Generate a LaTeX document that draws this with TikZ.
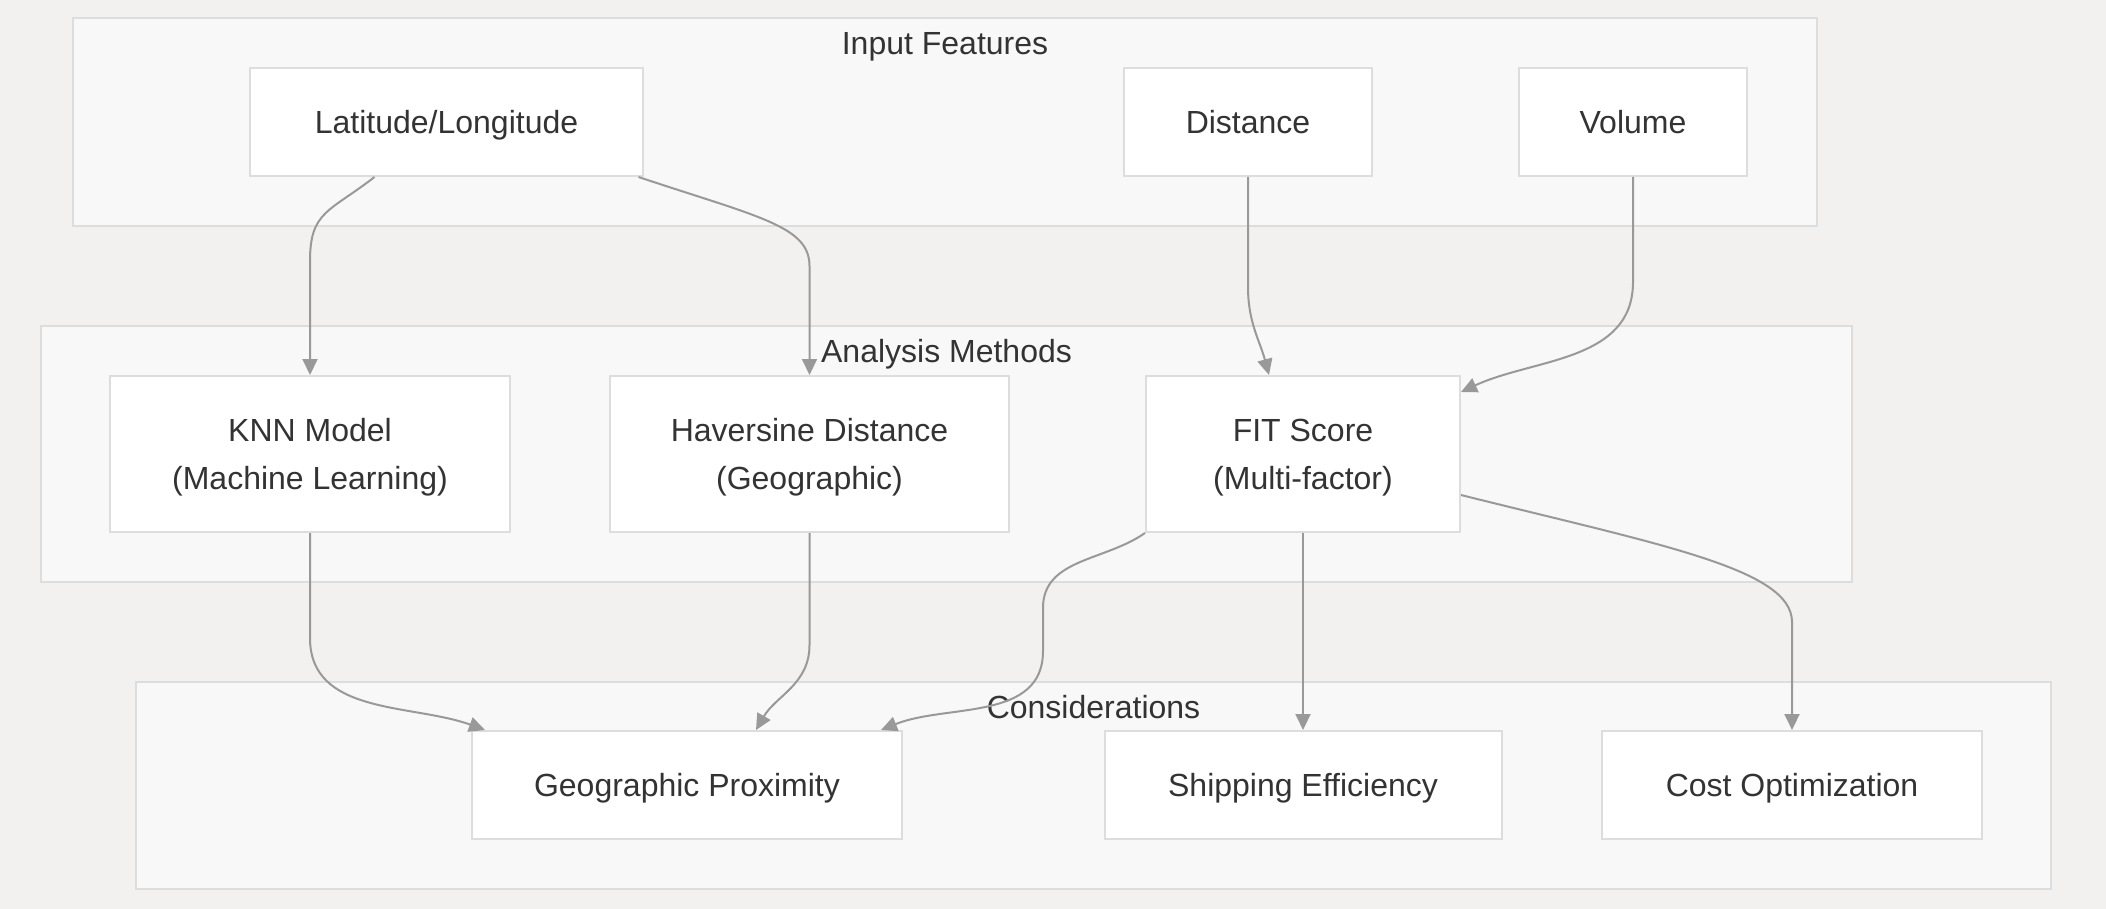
\documentclass[tikz,border=0pt]{standalone}
\usepackage{fontspec}
\setmainfont{Liberation Sans}
\usepackage{xcolor}
\usetikzlibrary{positioning,calc,arrows.meta}

\definecolor{bgcol}{HTML}{F2F1EF}
\definecolor{groupfill}{HTML}{F8F8F8}
\definecolor{boxline}{HTML}{DDDDDD}
\definecolor{txtcol}{HTML}{333333}
\definecolor{edgecol}{HTML}{999999}

\begin{document}
\begin{tikzpicture}[
	x=1pt, y=1pt,
	group/.style={            % khung nhom
		draw=boxline, fill=groupfill,
		line width=2pt, inner sep=0pt
	},
	grouplabel/.style={
		anchor=base, text=txtcol,
		font=\fontsize{32}{48}\selectfont
	},
	box/.style={              % o trang
		draw=boxline, fill=white,
		line width=2pt, inner sep=0pt,
		minimum height=108pt,
		align=center, text=txtcol, text depth=0pt,
		font=\fontsize{32}{48}\selectfont
	},
	tall/.style={minimum height=156pt},
	flow/.style={             % mui ten xam
		-{Triangle[length=16pt,width=15pt]},
		edgecol, line width=2pt
	}
	]
	% nen
	\fill[bgcol] (0,0) rectangle (2106,-909);
	\useasboundingbox (0,0) rectangle (2106,-909);
	
	% --- NHOM ---
	\node[group, minimum width=1744pt, minimum height=208pt] (inputs) at (945,-122) {};
	\node[group, minimum width=1811pt, minimum height=256pt] (methods) at (946.5,-454) {};
	\node[group, minimum width=1915pt, minimum height=207pt] (consid) at (1093.5,-785.5) {};
	\node[grouplabel] (inputs-lbl) at ([yshift=-37.5pt]inputs.north) {Input Features};
	\node[grouplabel] (methods-lbl) at ([yshift=-37.5pt]methods.north) {Analysis Methods};
	\node[grouplabel] (consid-lbl) at ([yshift=-37.5pt]consid.north) {Considerations};
	
	% --- HANG 1: dau vao ---
	\node[box, minimum width=393pt] (lat) at (446.5,-122) {Latitude/Longitude};
	\node[box, minimum width=248pt] (dist) at (1248,-122) {Distance};
	\node[box, minimum width=228pt] (vol) at (1633,-122) {Volume};
	
	% --- HANG 2: phuong phap ---
	\node[box, tall, minimum width=400pt] (knn) at (310,-454) {KNN Model\\(Machine Learning)};
	\node[box, tall, minimum width=399pt] (hav) at (809.5,-454) {Haversine Distance\\(Geographic)};
	\node[box, tall, minimum width=314pt] (fit) at (1303,-454) {FIT Score\\(Multi-factor)};
	
	% --- HANG 3: tieu chi ---
	\foreach \nm/\cx/\bw/\txt in {geo/687/430/Geographic Proximity, ship/1303/397/Shipping Efficiency, cost/1792/380/Cost Optimization} {
		\node[box, minimum width=\bw pt] (\nm) at (\cx,-785) {\txt};
	}
	
	% mui ten hang 1 -> hang 2
	\draw[flow] ([xshift=-72pt]lat.south) .. controls +(-45,-35) and +(0,50) .. ([yshift=114pt]knn.north) -- (knn.north);
	\draw[flow] ([xshift=192pt]lat.south) .. controls +(120,-40) and +(0,40) .. ([yshift=109pt]hav.north) -- (hav.north);
	\draw[flow] (dist.south) -- ([yshift=-110pt]dist.south) to[out=-90,in=105] ([xshift=-34pt]fit.north);
	\draw[flow] (vol.south) -- ([yshift=-105pt]vol.south) to[out=-90,in=25] ([yshift=-17pt]fit.north east);
	
	% mui ten hang 2 -> hang 3
	\draw[flow] (knn.south) -- ([yshift=-105pt]knn.south) to[out=-90,in=160] ([xshift=14pt]geo.north west);
	\draw[flow] (hav.south) -- ([yshift=-112pt]hav.south) to[out=-90,in=60] ([xshift=69pt]geo.north);
	\draw[flow] (fit.south west) to[out=-145,in=90] ([xshift=-102pt,yshift=-75pt]fit.south west)
		-- ([xshift=-102pt,yshift=-118pt]fit.south west) to[out=-90,in=22] ([xshift=-22pt]geo.north east);
	\draw[flow] (fit.south) -- (ship.north);
	\draw[flow] ([yshift=-41pt]fit.east) .. controls +(200,-50) and +(0,53) .. ([yshift=108pt]cost.north) -- (cost.north);
	
\end{tikzpicture}
\end{document}
